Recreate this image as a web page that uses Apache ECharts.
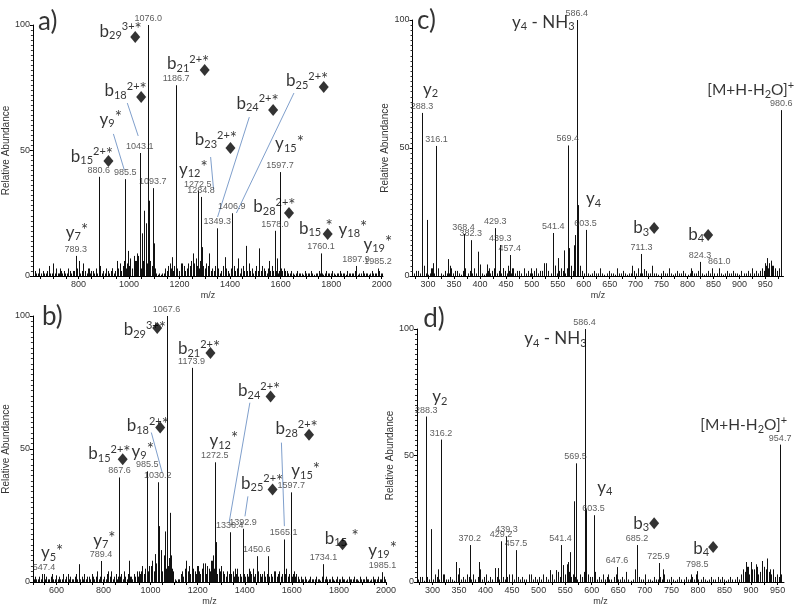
<!DOCTYPE html>
<html><head><meta charset="utf-8">
<script src="https://cdn.jsdelivr.net/npm/echarts@6/dist/echarts.min.js"></script>
<style>html,body{margin:0;padding:0;background:#fff}#c{width:800px;height:607px}</style>
</head><body><div id="c"></div>
<script>
// ---------------- Panel a ----------------
const peaksA = [[699,5],[727,3],[789.3,8],[803,6],[817,5],[843,3],[880.6,39.5],[934,3],[954,6],[985.5,38.6],[994.6,10],[1020,8],[1026,6],[1032.6,9],[1043.1,49],[1049.6,17],[1058.9,26],[1068,21],[1076.0,100],[1081,30],[1093.7,35],[1098,13],[1170,7.5],[1186.7,76],[1209,5],[1255,9],[1272.5,34],[1284.8,31.5],[1290,11.5],[1315,9],[1349.3,19],[1378,7.5],[1406.9,25],[1432,7],[1464,12],[1515,11],[1555,6],[1578.0,18],[1585,7],[1597.7,41.4],[1613,3],[1760.1,9],[1897.9,4],[1985.2,3]];
const labeledA = [789.3,880.6,985.5,1043.1,1076.0,1093.7,1186.7,1272.5,1284.8,1349.3,1406.9,1578.0,1597.7,1760.1,1897.9,1985.2];
const noiseA = [
 {from:622,step:6,h:[1,2,1,1,3,1,2,1,1,2,4,1,1,2,1,3,1,1,2,1,2,1,1,3,2,1,2]},
 {from:784,step:6,h:[2,1,3,2,1,2,4,2,1,3,1,2,2,1,3,1,2,4,1,2,1,3,2,1,2,3,1,2,3]},
 {from:958,step:6,h:[3,5,2,4,6,3,5,4,7,3,5,6,4,8,5,3,6,7,4,5,8,6,4,5,3]},
 {from:1108,step:6,h:[1,0.5,1,0.5,1,1]},
 {from:1144,step:6,h:[3,2,4,5,3,2,4,6,3,2,5,3,4,2,3,5,4,6,3,5,7,4,3,6,5,4,3,5,4,3,2]},
 {from:1330,step:6,h:[3,2,4,2,3,1,2,4,2,3,2,1,3,2,4,2,3,2,1,3,4,2,3,2,5,2,3,1,2,4,2,3,2,4,3,2,1,3,2,4,2,3,2,1,2,3,2,1,2,2]},
 {from:1630,step:6,h:[1,1,2,1,0.5,1,2,1,1,1,0.5,2,1,1,1,2,1,0.5,1,1,2,1,1,0.5,1,2,1,1,1,2,1,0.5,1,1,2,1,1,1,0.5,2,1,1,1,1,2,1,0.5,1,1,2,1,1,1,0.5,1,2,1,1,1,1,2,1,1]}
];
const ionsA = [
 [640.2,101.2,'{P|a)}'],
 [883.5,97.6,'{L|b}{s|29}{p|3+}{a|*}'],
 [1150.4,84.5,'{L|b}{s|21}{p|2+}{a|*}'],
 [903.1,73.7,'{L|b}{s|18}{p|2+}{a|*}'],
 [883.5,62.5,'{L|y}{s|9}{a|*}'],
 [769.7,47.8,'{L|b}{s|15}{p|2+}{a|*}'],
 [750.1,17.5,'{L|y}{s|7}{a|*}'],
 [1197.5,42.6,'{L|y}{s|12}{a|*}'],
 [1260.3,54.2,'{L|b}{s|23}{p|2+}{a|*}'],
 [1425.1,68.9,'{L|b}{s|24}{p|2+}{a|*}'],
 [1621.3,77.7,'{L|b}{s|25}{p|2+}{a|*}'],
 [1578.2,52.6,'{L|y}{s|15}{a|*}'],
 [1491.8,27.5,'{L|b}{s|28}{p|2+}{a|*}'],
 [1672.3,19.1,'{L|b}{s|15}{a| *}'],
 [1829.3,18.7,'{L|y}{s|18}{a|*}'],
 [1927.4,12.7,'{L|y}{s|19}{a|*}']
];
const diamondsA = [[1024.8,95.2],[1299.5,82.1],[1048.3,71.3],[918.8,45.8],[1401.5,51],[1570.3,66.1],[1770.5,75.3],[1633.1,25.1],[1786.1,16.7]];
const leadersA = [[938.4,56.6,981.6,42.2],[993.4,68.9,1036.5,55.8],[1323.0,47.4,1334.8,34.3],[1476.1,63.3,1350.5,23.5],[1652.7,72.9,1425.1,25.1]];
const xLabelsA = [800,1000,1200,1400,1600,1800,2000];
const xTicksA = [650,700,750,800,850,900,950,1000,1050,1100,1150,1200,1250,1300,1350,1400,1450,1500,1550,1600,1650,1700,1750,1800,1850,1900,1950,2000];

// ---------------- Panel b ----------------
const peaksB = [[547.4,3],[600,2.5],[650,3],[697,6.7],[750,3],[789.4,7.9],[820,4],[867.6,39.3],[906.6,8],[950,4],[985.5,41.6],[1000,6],[1019.7,10.5],[1030.2,37.5],[1035,21],[1045,12],[1055,10],[1060,19],[1067.6,100],[1082.5,26],[1088,10],[1150,8],[1173.9,80.5],[1200,6],[1230,7],[1255,8],[1265,10],[1272.5,45],[1276,15],[1300,6],[1336.4,18.7],[1360,5],[1392.9,20],[1420,5],[1450.6,9.7],[1500,9.7],[1530,4],[1565.1,16],[1597.7,33.7],[1610,4],[1734.1,6.7],[1985.1,3.7]];
const labeledB = [547.4,789.4,867.6,985.5,1030.2,1067.6,1173.9,1272.5,1336.4,1392.9,1450.6,1565.1,1597.7,1734.1,1985.1];
const noiseB = [
 {from:503,step:6,h:[1,2,1,1,2,1,3,1,1,2,1,1,2,3,1,1,2,1,2,1,1,3,1,2,1,1,2,1,1,2,3,1,2,1]},
 {from:707,step:6,h:[2,1,3,1,2,2,1,3,2,1,2,4,1,2,3,1,2,1,3,2,2,4,1,2,3,1,2,2,3,1,4,2,1,3,2,2,1,3,2,4,2,3]},
 {from:959,step:6,h:[4,6,3,5,7,4,6,5,8,4,6,7,5,9,6,4,7,8,5,6,9,7,5,4]},
 {from:1103,step:6,h:[1,0.5,1,1]},
 {from:1127,step:6,h:[3,4,2,5,3,4,6,3,2,5,4,3,6,4,3,5,7,4,3,6,5,4,8,6,5,4,3,5,4,3,4]},
 {from:1313,step:6,h:[3,2,4,3,2,3,4,2,3,5,2,3,2,4,3,2,3,2,4,3,5,2,3,2,4,3,2,3,4,2,3,5,2,3,2,4,3,2,3,4,2,3,2,3,5,2,3,4,2,3,2,3,2]},
 {from:1631,step:6,h:[1,2,1,1,2,1,0.5,1,2,1,1,1,2,1,1,0.5,2,1,1,2,1,1,1,2,1,0.5,1,2,1,1,2,1,1,0.5,1,2,1,1,1,2,1,1,0.5,2,1,1,1,2,1,1,0.5,1,2,1,1,1,2,1,1,1,2,1]}
];
const ionsB = [
 [538.1,99.6,'{P|b)}'],
 [885.7,94.8,'{L|b}{s|29}{p|3+}{a|*}'],
 [1116.0,87.6,'{L|b}{s|21}{p|2+}{a|*}'],
 [898.3,58.8,'{L|b}{s|18}{p|2+}{a|*}'],
 [735.0,48.3,'{L|b}{s|15}{p|2+}{a|*}'],
 [919.2,49.1,'{L|y}{s|9}{a|*}'],
 [755.9,15.7,'{L|y}{s|7}{a|*}'],
 [533.9,10.9,'{L|y}{s|5}{a|*}'],
 [1250.0,53.2,'{L|y}{s|12}{a|*}'],
 [1371.5,71.9,'{L|b}{s|24}{p|2+}{a|*}'],
 [1530.6,57.7,'{L|b}{s|28}{p|2+}{a|*}'],
 [1384.0,37.1,'{L|b}{s|25}{p|2+}{a|*}'],
 [1597.6,41.9,'{L|y}{s|15}{a|*}'],
 [1740.0,16.5,'{L|b}{s|15}{a| *}'],
 [1924.2,12.0,'{L|y}{s|19}{a|*}']
];
const diamondsB = [[1028.1,95.5],[1254.2,86.1],[1040.7,58.1],[881.5,46.1],[1509.7,69.7],[1673.0,55.4],[1518.1,34.8],[1815.4,14.2]];
const leadersB = [[1003.0,56.2,1049.0,41.2],[1421.7,67.4,1333.8,22.5],[1413.3,32.2,1400.8,24.7],[1555.7,52.4,1568.3,21.0]];
const xLabelsB = [600,800,1000,1200,1400,1600,1800,2000];
const xTicksB = [500,550,600,650,700,750,800,850,900,950,1000,1050,1100,1150,1200,1250,1300,1350,1400,1450,1500,1550,1600,1650,1700,1750,1800,1850,1900,1950,2000];

// ---------------- Panel c ----------------
const peaksC = [[276,2],[288.3,63.7],[293,4],[298.5,21.9],[305,3],[310,5],[316.1,50.8],[320,3],[338.4,6.6],[342,4],[355,2],[368.4,16.4],[372,3],[382.3,14],[396,9.5],[400,4.5],[413,4.5],[417,3],[429.3,18.7],[439.3,12.1],[445,3],[454,4],[457.4,8.2],[462,3],[497.9,3],[523.5,5],[527,5],[541.4,16.8],[544.8,4],[551,7],[562,10],[569.4,51],[572,10.9],[581,12],[583,16],[586.4,100],[588,27.7],[593,4],[603.5,18],[663.7,3],[692.6,4],[711.3,8.6],[716,2.7],[732,4],[806,3],[824.3,5.5],[861.0,3],[950,5],[954,7],[957,5],[960,6],[963,4],[980.6,64.8]];
const labeledC = [288.3,316.1,368.4,382.3,429.3,439.3,457.4,541.4,569.4,586.4,603.5,711.3,824.3,861.0,980.6];
const noiseC = [
 {from:272,step:4,h:[1,0.5,2,1,1,2,1,0.5,1,3,1,2,1,1,0.5,2,1,1,3,1,2,1,1,0.5,2,1,1,2,1,3,1,1,2,1,0.5,1,2]},
 {from:420,step:4,h:[1,2,3,1,2,1,3,2,1,2,1,3,1,2,2,1,3,1,2,1,1,2,3,1,2]},
 {from:520,step:4,h:[2,1,3,2,1,2,4,1,2,3,2,1,3,2,4,2,3,2,3,2]},
 {from:600,step:4,h:[1,2,1,0.5,1,2,1,1,3,1,0.5,1,2,1,1,0.5,2,1,1,2,1,0.5,1,1,2,1,3,1,1,0.5,2,1,1,2,1,1,0.5,1,2,1,1,3,1,0.5,1,2,1,1,2,1,0.5,1,2,1,1,2,1,1,0.5,1,2,1,3,1,1,2,1,0.5,1,2,1,1,2,1,1,0.5,2,1,1,2,1,3,1,2,1]},
 {from:940,step:4,h:[2,3,2,4,3,5,4,3,2,3,2]}
];
const ionsC = [
 [278.7,99.6,'{P|c)}'],
 [461.8,99.2,'{L|y}{s|4}{L| - NH}{s|3}'],
 [290.2,73.0,'{L|y}{s|2}'],
 [604.5,30.1,'{L|y}{s|4}'],
 [837.9,72.7,'{M|[M+H-H}{s|2}{M|O]}{p|+}'],
 [695.2,18.75,'{L|b}{s|3}'],
 [801.2,16.4,'{L|b}{s|4}']
];
const diamondsC = [[735.7,18.75],[839.8,16.0]];
const xLabelsC = [300,350,400,450,500,550,600,650,700,750,800,850,900,950];
const xTicksC = [275,300,325,350,375,400,425,450,475,500,525,550,575,600,625,650,675,700,725,750,775,800,825,850,875,900,925,950,975];

// ---------------- Panel d ----------------
const peaksD = [[280,2],[288.3,65.4],[297.7,20.9],[305,3],[310,5],[316.2,56.3],[320,3],[345,7.9],[350,5.5],[365,3],[370.2,14.6],[387,7.9],[390,5],[400,3],[418,5.5],[423,5.5],[429.2,16.1],[439.3,18],[445,3],[457.5,12.6],[481,3],[522,4.7],[532,4.7],[541.4,14.6],[546.5,6.7],[553,7],[555.7,7.9],[559,11.8],[566,31.9],[569.5,46.9],[586.4,100],[590,28.7],[603.5,26.4],[607,4],[630,3],[647.6,5.9],[665,4],[682,5],[685.2,14.6],[700,3],[725.9,7.5],[734,5],[787,3],[798.5,4.3],[891,7.9],[895,6],[900,7.9],[905,5],[912,6],[920,8.3],[925,6],[930,9.3],[935,5],[941,4],[954.7,54.3]];
const labeledD = [288.3,316.2,370.2,429.2,439.3,457.5,541.4,569.5,586.4,603.5,647.6,685.2,725.9,798.5,954.7];
const noiseD = [
 {from:273,step:4,h:[1,2,1,0.5,2,1,3,1,1,2,1,2,3,1,1,2,1,0.5,2,3,1,2,1,1,2,1,3,1,2,1,1,2,1,0.5,2,1,2]},
 {from:421,step:4,h:[2,1,3,2,1,2,1,3,1,2,2,1,2,1,1,2,3,1,2,1,2,1,3,2,1]},
 {from:521,step:4,h:[2,3,1,2,4,2,1,3,2,4,2,3,2,1,3,2,4,2,3,2]},
 {from:601,step:4,h:[2,1,1,2,1,3,1,2,1,1,2,3,1,1,2,1,2,1,0.5,1,3,1,2,1,1,2,1,1,0.5,2,1,1,2,1,3,1,1,2,1,0.5,1,2,1,1,2,1,1,2,1,3,1,1,2,1,0.5,1,2,1,1,2,1,2,1,0.5,1,2,1,1,2,1]},
 {from:881,step:4,h:[3,5,4,6,3,5,4,7,3,4,6,3,5,4,3,5,2,3,2,3]}
];
const ionsD = [
 [282.7,104.3,'{P|d)}'],
 [472.8,96.1,'{L|y}{s|4}{L| - NH}{s|3}'],
 [299.6,73.2,'{L|y}{s|2}'],
 [610.2,37.4,'{L|y}{s|4}'],
 [804.1,62.2,'{M|[M+H-H}{s|2}{M|O]}{p|+}'],
 [678.0,23.2,'{L|b}{s|3}'],
 [790.9,13.4,'{L|b}{s|4}']
];
const diamondsD = [[717.5,23.2],[828.6,13.8]];
const xLabelsD = [300,350,400,450,500,550,600,650,700,750,800,850,900,950];
const xTicksD = [275,300,325,350,375,400,425,450,475,500,525,550,575,600,625,650,675,700,725,750,775,800,825,850,875,900,925,950];

// ---------------- build ----------------
const AXF = '"Liberation Sans", Arial, sans-serif';
const IONF = 'Lato, "Open Sans", sans-serif';
const panels = [
 {grid:{left:30,top:25,width:353,height:251}, min:620, max:2005, nameGap:18, peaks:peaksA, labeled:labeledA, noise:noiseA, ions:ionsA, diamonds:diamondsA, leaders:leadersA, xl:xLabelsA, xt:xTicksA},
 {grid:{left:28,top:316,width:358,height:267}, min:500, max:2000, nameGap:16, peaks:peaksB, labeled:labeledB, noise:noiseB, ions:ionsB, diamonds:diamondsB, leaders:leadersB, xl:xLabelsB, xt:xTicksB},
 {grid:{left:412.5,top:20,width:371,height:256}, min:270, max:985, nameGap:14, peaks:peaksC, labeled:labeledC, noise:noiseC, ions:ionsC, diamonds:diamondsC, leaders:[], xl:xLabelsC, xt:xTicksC},
 {grid:{left:417,top:329,width:367,height:254}, min:271, max:962, nameGap:14, peaks:peaksD, labeled:labeledD, noise:noiseD, ions:ionsD, diamonds:diamondsD, leaders:[], xl:xLabelsD, xt:xTicksD}
];
function expandNoise(segs){const out=[];segs.forEach(s=>s.h.forEach((v,i)=>out.push([s.from+i*s.step,v])));return out;}
const rich = {
 L:{fontFamily:IONF,fontSize:17,lineHeight:20,color:'#000'},
 M:{fontFamily:IONF,fontSize:15.5,lineHeight:20,color:'#000'},
 s:{fontFamily:IONF,fontSize:11,lineHeight:11,verticalAlign:'bottom',color:'#000'},
 p:{fontFamily:IONF,fontSize:11,lineHeight:16,verticalAlign:'top',color:'#000'},
 a:{fontFamily:IONF,fontSize:17,lineHeight:16,verticalAlign:'top',color:'#000'},
 P:{fontFamily:IONF,fontSize:26,lineHeight:30,color:'#000'}
};
const grids=[],xAxes=[],yAxes=[],series=[];
panels.forEach((P,i)=>{
 grids.push(P.grid);
 xAxes.push({gridIndex:i,type:'value',min:P.min,max:P.max,
  axisLine:{lineStyle:{color:'#000',width:1}},
  axisTick:{customValues:P.xt,length:3,lineStyle:{color:'#000'}},
  axisLabel:{customValues:P.xl,fontSize:9,color:'#333',margin:4,fontFamily:AXF,formatter:v=>String(v)},
  splitLine:{show:false},
  name:'m/z',nameLocation:'middle',nameGap:15,nameTextStyle:{fontSize:9,color:'#333',fontFamily:AXF}});
 yAxes.push({gridIndex:i,type:'value',min:0,max:100,interval:50,
  axisLine:{show:true,lineStyle:{color:'#000',width:1}},
  axisTick:{show:true,length:3,lineStyle:{color:'#000'}},
  minorTick:{show:true,splitNumber:25,length:2,lineStyle:{color:'#333'}},
  axisLabel:{fontSize:9,color:'#333',margin:3,fontFamily:AXF},
  splitLine:{show:false},
  name:'Relative Abundance',nameLocation:'middle',nameRotate:90,nameGap:P.nameGap,
  nameTextStyle:{fontSize:10,color:'#333',fontFamily:AXF}});
 const sticks = expandNoise(P.noise).concat(P.peaks);
 series.push({type:'custom',xAxisIndex:i,yAxisIndex:i,clip:true,silent:true,animation:false,
  encode:{x:0,y:1},data:sticks,
  renderItem:function(params,api){
   const x=api.value(0),y=api.value(1);
   const b=api.coord([x,0]),t=api.coord([x,y]);
   const px=Math.round(b[0])+0.5;
   return {type:'line',shape:{x1:px,y1:b[1],x2:px,y2:t[1]},style:{stroke:'#111',lineWidth:1}};
  }});
 series.push({type:'custom',xAxisIndex:i,yAxisIndex:i,clip:false,silent:true,animation:false,
  encode:{x:[0,2],y:[1,3]},data:P.leaders,
  renderItem:function(params,api){
   const a=api.coord([api.value(0),api.value(1)]),c=api.coord([api.value(2),api.value(3)]);
   return {type:'line',shape:{x1:a[0],y1:a[1],x2:c[0],y2:c[1]},style:{stroke:'#7f9fcc',lineWidth:1}};
  }});
 series.push({type:'scatter',xAxisIndex:i,yAxisIndex:i,clip:false,silent:true,animation:false,
  symbolSize:0,data:P.peaks.filter(p=>P.labeled.indexOf(p[0])>=0),
  label:{show:true,position:'top',distance:2,fontSize:9,color:'#333',fontFamily:AXF,
   formatter:p=>p.value[0].toFixed(1)}});
 series.push({type:'scatter',xAxisIndex:i,yAxisIndex:i,clip:false,silent:true,animation:false,
  symbol:'diamond',symbolSize:[10,12],itemStyle:{color:'#000'},data:P.diamonds});
 series.push({type:'scatter',xAxisIndex:i,yAxisIndex:i,clip:false,silent:true,animation:false,
  symbolSize:0,data:P.ions,
  label:{show:true,position:'right',distance:0,formatter:p=>p.data[2],rich:rich}});
});
const chart = echarts.init(document.getElementById('c'),null,{renderer:'canvas'});
chart.setOption({animation:false,backgroundColor:'#fff',grid:grids,xAxis:xAxes,yAxis:yAxes,series:series});
</script></body></html>
